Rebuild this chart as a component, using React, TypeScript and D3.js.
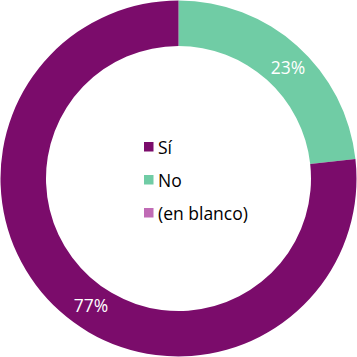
import React from "react";
import * as d3 from "d3";

const categories = ["Sí", "No", "(en blanco)"];
const values = [76.75, 23.25, 0];
const colors = ["#7B0C6B", "#70CCA5", "#C06BB5"];

const W = 357;
const H = 357;
const cx = 178.5;
const cy = 178.5;
const outerR = 178;
const innerR = 132.5;

export default function App() {
  const total = d3.sum(values);
  const pie = d3
    .pie<number>()
    .sort(null)
    .value((d) => d)
    .startAngle(0)
    .endAngle(2 * Math.PI);
  // order: No first from top clockwise, then Sí
  const order = [1, 0, 2];
  const arcsData = pie(order.map((i) => values[i]));
  const arc = d3.arc<d3.PieArcDatum<number>>().innerRadius(innerR).outerRadius(outerR);
  const labelArc = d3.arc<d3.PieArcDatum<number>>().innerRadius(155).outerRadius(155);
  const labelOffsets: Record<number, [number, number]> = { 0: [16, 11.5], 1: [6, 4] };

  return (
    <div style={{ position: "fixed", left: 0, top: 0 }}>
      <svg width={W} height={H} style={{ display: "block" }}>
        <rect width={W} height={H} fill="#fff" />
        <g transform={`translate(${cx},${cy})`}>
          {arcsData.map((a, k) => {
            const idx = order[k];
            if (a.value <= 0) return null;
            return <path key={idx} d={arc(a) || ""} fill={colors[idx]} />;
          })}
          {arcsData.map((a, k) => {
            const idx = order[k];
            if (a.value <= 0) return null;
            const [x, y] = labelArc.centroid(a);
            const off = labelOffsets[idx] || [0, 0];
            return (
              <text
                key={"l" + idx}
                x={x + off[0]}
                y={y + off[1]}
                textAnchor="middle"
                dominantBaseline="central"
                fill="#fff"
                fontFamily="'Open Sans', sans-serif"
                fontSize={17.5}
              >
                {d3.format(".0%")(a.value / total)}
              </text>
            );
          })}
        </g>
        <g transform="translate(144,142)">
          {categories.map((c, i) => (
            <g key={c} transform={`translate(0,${i * 33})`}>
              <rect width={9.5} height={9.5} fill={colors[i]} />
              <text
                x={14}
                y={5}
                dominantBaseline="central"
                fontFamily="'Open Sans', sans-serif"
                fontSize={17.5}
                fill="#000"
              >
                {c}
              </text>
            </g>
          ))}
        </g>
      </svg>
    </div>
  );
}
